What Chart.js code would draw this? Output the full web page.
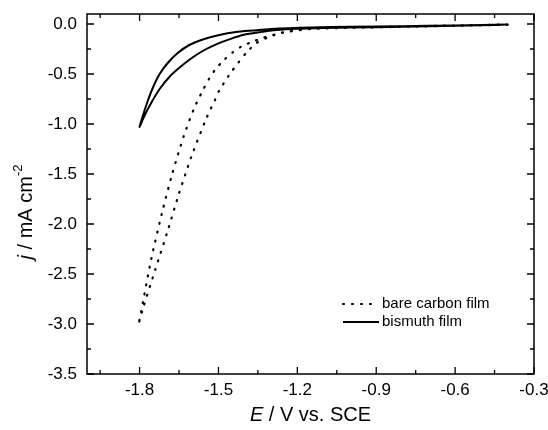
<!DOCTYPE html>
<html>
<head>
<meta charset="utf-8">
<script src="https://cdn.jsdelivr.net/npm/chart.js@4/dist/chart.umd.min.js"></script>
<style>
body{margin:0;background:#fff;}
#wrap{width:548px;height:430px;}
</style>
</head>
<body>
<div id="wrap"><canvas id="myChart" width="548" height="430"></canvas></div>
<script>
/*----data (E in V vs. SCE, j in mA cm-2), scan out to -1.8 V and back----*/
const carbonE = [-0.40,-0.60,-0.80,-1.00,-1.15,-1.24,-1.291,-1.332,-1.373,-1.412,-1.446,-1.481,-1.513,-1.536,-1.557,-1.592,-1.632,-1.676,-1.714,-1.756,-1.798,-1.805,
                 -1.786,-1.741,-1.695,-1.651,-1.603,-1.547,-1.513,-1.497,-1.45,-1.424,-1.393,-1.355,-1.316,-1.266,-1.215,-1.15,-1.0,-0.8,-0.6,-0.4];
const carbonJ = [-0.005,-0.015,-0.025,-0.035,-0.05,-0.08,-0.107,-0.14,-0.18,-0.224,-0.284,-0.365,-0.458,-0.55,-0.65,-0.839,-1.122,-1.50,-1.88,-2.355,-2.93,-3.01,
                 -2.836,-2.462,-2.084,-1.703,-1.327,-0.949,-0.758,-0.665,-0.475,-0.385,-0.284,-0.19,-0.14,-0.09,-0.064,-0.05,-0.038,-0.028,-0.018,-0.008];
const bismuthE = [-0.40,-0.60,-0.80,-1.00,-1.15,-1.30,-1.37,-1.433,-1.497,-1.56,-1.611,-1.655,-1.693,-1.725,-1.75,-1.769,-1.788,-1.80,
                  -1.782,-1.756,-1.725,-1.687,-1.649,-1.604,-1.56,-1.509,-1.459,-1.408,-1.35,-1.279,-1.2,-1.1,-1.0,-0.8,-0.6,-0.4];
const bismuthJ = [-0.005,-0.015,-0.022,-0.028,-0.035,-0.05,-0.065,-0.08,-0.11,-0.155,-0.21,-0.29,-0.39,-0.505,-0.64,-0.77,-0.92,-1.03,
                  -0.92,-0.79,-0.655,-0.53,-0.438,-0.345,-0.27,-0.204,-0.154,-0.11,-0.085,-0.06,-0.047,-0.04,-0.036,-0.028,-0.018,-0.008];
const seriesNames = ["bare carbon film","bismuth film"];

const xTicks = [-1.8,-1.5,-1.2,-0.9,-0.6,-0.3];
const xMinor = [-1.95,-1.65,-1.35,-1.05,-0.75,-0.45];
const yTicks = [0.0,-0.5,-1.0,-1.5,-2.0,-2.5,-3.0,-3.5];
const yMinor = [-0.25,-0.75,-1.25,-1.75,-2.25,-2.75,-3.25];

const FONT = "'Liberation Sans', Arial, sans-serif";
Chart.defaults.font.family = FONT;
Chart.defaults.color = "#000";

function toPoints(xs, ys){
  return xs.map(function(x, i){ return {x: x, y: ys[i]}; });
}

// draws text made of parts with different fonts, centred on (0,0)
function richText(ctx, parts){
  var total = 0;
  parts.forEach(function(p){ ctx.font = p.font; p.w = ctx.measureText(p.text).width; total += p.w; });
  var x = -total/2;
  parts.forEach(function(p){
    ctx.font = p.font;
    ctx.fillText(p.text, x, p.dy || 0);
    x += p.w;
  });
}

/*----frame, inside ticks, axis titles, legend----*/
const framePlugin = {
  id: "frame",
  afterDraw(chart){
    const ctx = chart.ctx, a = chart.chartArea, xs = chart.scales.x, ys = chart.scales.y;
    ctx.save();
    ctx.strokeStyle = "#000";
    ctx.fillStyle = "#000";
    ctx.lineWidth = 1.5;
    ctx.strokeRect(a.left, a.top, a.right - a.left, a.bottom - a.top);

    ctx.lineWidth = 1.3;
    ctx.beginPath();
    function xt(v, len){
      var p = xs.getPixelForValue(v);
      ctx.moveTo(p, a.bottom); ctx.lineTo(p, a.bottom - len);
      ctx.moveTo(p, a.top); ctx.lineTo(p, a.top + len);
    }
    function yt(v, len){
      var p = ys.getPixelForValue(v);
      ctx.moveTo(a.left, p); ctx.lineTo(a.left + len, p);
      ctx.moveTo(a.right, p); ctx.lineTo(a.right - len, p);
    }
    xTicks.forEach(function(v){ xt(v, 7); });
    xMinor.forEach(function(v){ xt(v, 4); });
    yTicks.forEach(function(v){ yt(v, 7); });
    yMinor.forEach(function(v){ yt(v, 4); });
    ctx.stroke();

    // axis titles
    ctx.textBaseline = "middle";
    ctx.textAlign = "left";
    ctx.save();
    ctx.translate((a.left + a.right)/2, 415);
    richText(ctx, [
      {text: "E", font: "italic 20px " + FONT},
      {text: " / V vs. SCE", font: "20px " + FONT}
    ]);
    ctx.restore();

    ctx.save();
    ctx.translate(26, 212);
    ctx.rotate(-Math.PI/2);
    richText(ctx, [
      {text: "j", font: "italic 20px " + FONT},
      {text: " / mA cm", font: "20px " + FONT},
      {text: "-2", font: "13px " + FONT, dy: -8}
    ]);
    ctx.restore();

    // legend
    ctx.font = "15px " + FONT;
    chart.data.datasets.forEach(function(ds, i){
      var y = a.top + 290 + i*18;
      var x0 = a.left + 256;
      ctx.save();
      ctx.lineWidth = ds.borderWidth;
      ctx.lineCap = ds.borderCapStyle || "butt";
      ctx.setLineDash(ds.borderDash || []);
      ctx.beginPath();
      ctx.moveTo(x0, y); ctx.lineTo(x0 + 36, y);
      ctx.stroke();
      ctx.restore();
      ctx.fillText(ds.label, x0 + 39, y);
    });
    ctx.restore();
  }
};

new Chart("myChart", {
  type: "scatter",
  data: {
    datasets: [{
      label: seriesNames[0],
      data: toPoints(carbonE, carbonJ),
      showLine: true,
      borderColor: "#000",
      borderWidth: 2.2,
      borderDash: [1, 8],
      borderCapStyle: "round",
      pointRadius: 0,
      tension: 0.25,
      fill: false
    },{
      label: seriesNames[1],
      data: toPoints(bismuthE, bismuthJ),
      showLine: true,
      borderColor: "#000",
      borderWidth: 2,
      pointRadius: 0,
      tension: 0.25,
      fill: false
    }]
  },
  options: {
    responsive: false,
    animation: false,
    layout: {padding: {left: 40, right: 14, top: 14, bottom: 0}},
    plugins: {
      legend: {display: false},
      tooltip: {enabled: false}
    },
    scales: {
      x: {
        type: "linear",
        min: -2.0,
        max: -0.3,
        afterBuildTicks: function(s){ s.ticks = xTicks.map(function(v){ return {value: v}; }); },
        afterFit: function(s){ s.height = 56; s.paddingLeft = 0; s.paddingRight = 0; },
        ticks: {
          padding: 6,
          maxRotation: 0,
          autoSkip: false,
          font: {size: 17},
          callback: function(v){ return v.toFixed(1); }
        },
        grid: {display: false, drawTicks: false},
        border: {display: false}
      },
      y: {
        type: "linear",
        min: -3.5,
        max: 0.1,
        afterBuildTicks: function(s){ s.ticks = yTicks.map(function(v){ return {value: v}; }); },
        afterFit: function(s){ s.width = 47; s.paddingTop = 0; s.paddingBottom = 0; },
        ticks: {
          padding: 10,
          autoSkip: false,
          font: {size: 17},
          callback: function(v){ return v.toFixed(1); }
        },
        grid: {display: false, drawTicks: false},
        border: {display: false}
      }
    }
  },
  plugins: [framePlugin]
});
</script>
</body>
</html>
